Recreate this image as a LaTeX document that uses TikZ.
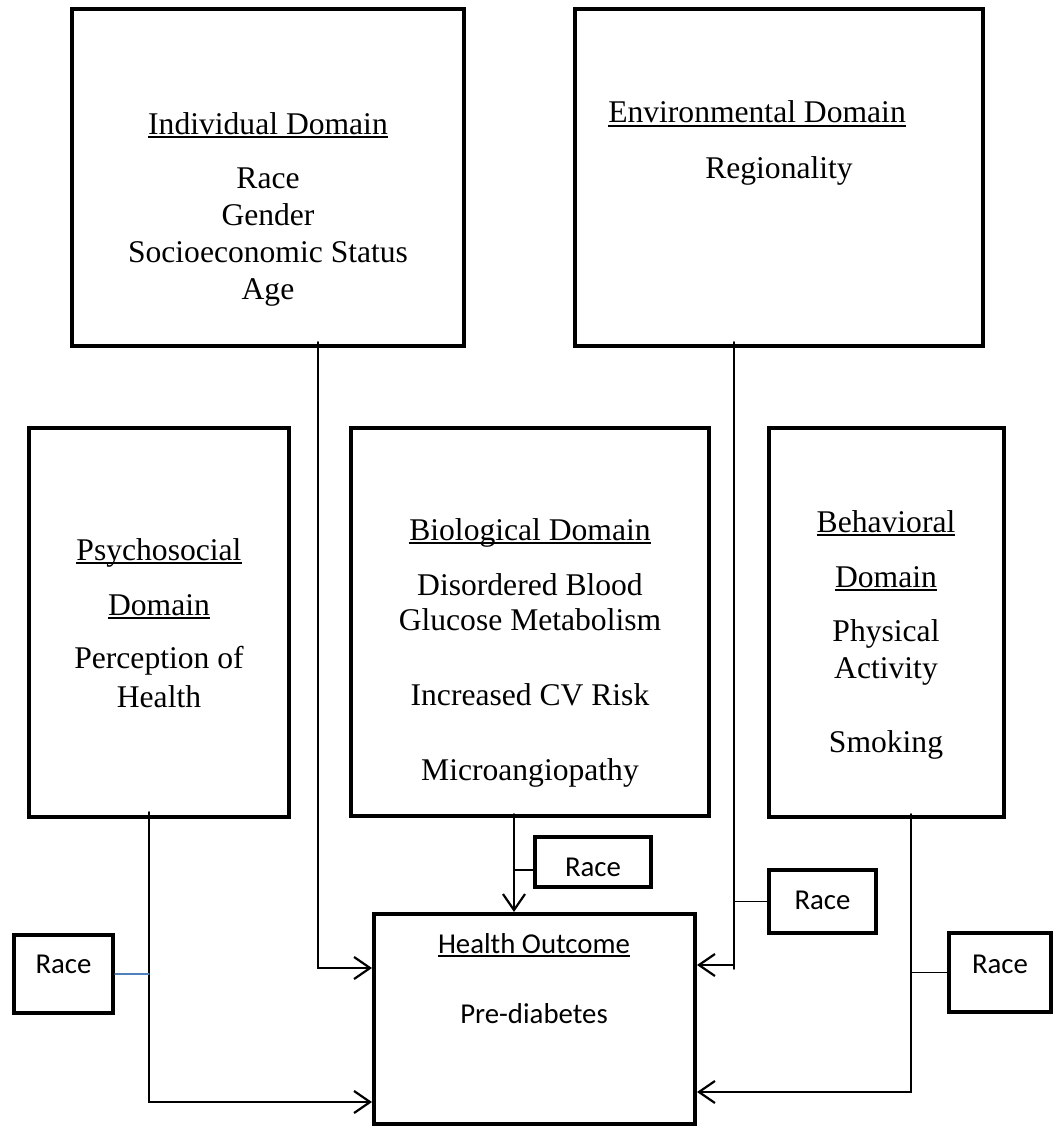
\documentclass[tikz,border=0pt]{standalone}
\usepackage{fontspec}
\setmainfont{Liberation Serif}
\newfontfamily\calibri{Carlito}
\usepackage{tikz}
\usetikzlibrary{arrows.meta}
\definecolor{lin}{RGB}{79,129,189}
\newcommand{\DomTitle}[1]{\setbox0\hbox{#1}\rlap{\rule[-2pt]{\wd0}{0.8pt}}\box0}

\begin{document}
\begin{tikzpicture}[x=0.5pt,y=-0.5pt,line cap=round]
	\tikzstyle{dombox}=[draw,line width=2pt,rectangle,inner sep=0pt];
	\tikzstyle{domtext}=[align=center,anchor=base,inner sep=0pt,font=\fontsize{15.8}{18.5}\selectfont];
	\tikzstyle{sanstext}=[align=center,anchor=base,inner sep=0pt,font=\calibri\fontsize{14.4}{18}\selectfont];
	\tikzstyle{racebox}=[draw,line width=2pt,anchor=base,inner sep=0pt,font=\calibri\fontsize{14.4}{18}\selectfont];
	\tikzstyle{linkarrow}=[line width=0.9pt,-{Straight Barb[length=8pt,width=11pt,line width=1.1pt]}];
	\tikzstyle{tieline}=[line width=0.9pt];
%<--------------------------------------------------------------------------->%

	\useasboundingbox (0,0) rectangle (1059,1129);
	\node[dombox,minimum width=196pt,minimum height=168.5pt] (ind) at (268,177.5) {};
	\node[dombox,minimum width=204pt,minimum height=168.5pt] (env) at (779,177.5) {};
	\node[dombox,minimum width=130pt,minimum height=194.5pt] (psy) at (159,622.5) {};
	\node[dombox,minimum width=179pt,minimum height=194pt] (bio) at (530,622) {};
	\node[dombox,minimum width=117.5pt,minimum height=194.5pt] (beh) at (886.5,622.5) {};
	\node[dombox,minimum width=160.5pt,minimum height=105pt] (out) at (534.5,1019) {};
	%% texts (anchored on the last line)
	\node[domtext] (ind-txt) at (268,299) {\DomTitle{Individual Domain}\\[8.5pt] Race\\ Gender\\ Socioeconomic Status\\ Age};
	\node[domtext] (env-txt) at (757,123) {\DomTitle{Environmental Domain}};
	\node[domtext] (env-item) at (779,178) {Regionality};
	\node[domtext] (psy-txt) at (159,707) {\DomTitle{Psychosocial}\\[9pt] \DomTitle{Domain}\\[8pt] Perception of\\[1pt] Health};
	\node[domtext] (bio-txt) at (530,780) {\DomTitle{Biological Domain}\\[9pt] Disordered Blood\\[-1pt] Glucose Metabolism\\[19pt] Increased CV Risk\\[19pt] Microangiopathy};
	\node[domtext] (beh-txt) at (886,752) {\DomTitle{Behavioral}\\[9pt] \DomTitle{Domain}\\[8.5pt] Physical\\ Activity\\[18.5pt] Smoking};
	\node[sanstext] (out-txt) at (534,1023) {\DomTitle{Health Outcome}\\[17pt] Pre-diabetes};
	%% race boxes
	\node[racebox,minimum width=49.5pt,text height=19pt,text depth=20pt] (race-psy) at (63.5,973) {Race};
	\node[racebox,minimum width=58pt,text height=19.5pt,text depth=5.5pt] (race-bio) at (593,876) {Race};
	\node[racebox,minimum width=53.5pt,text height=19.5pt,text depth=12pt] (race-env) at (822.5,909) {Race};
	\node[racebox,minimum width=51pt,text height=20pt,text depth=19.5pt] (race-beh) at (1000,973) {Race};
	%% Final
	\coordinate (ind-v) at ([xshift=25pt,yshift=3pt]ind.south);
	\coordinate (env-v) at ([xshift=-22.5pt,yshift=3pt]env.south);
	\coordinate (psy-v) at ([xshift=-5pt,yshift=3.5pt]psy.south);
	\coordinate (bio-v) at ([xshift=-8pt,yshift=2pt]bio.south);
	\coordinate (beh-v) at ([xshift=12.25pt,yshift=2.5pt]beh.south);
	\coordinate (env-in) at ([yshift=27pt]out.east);
	\draw[linkarrow] (ind-v) |- ([yshift=25.5pt]out.west);
	\draw[linkarrow] (psy-v) |- ([yshift=-41.5pt]out.west);
	\draw[linkarrow] (bio-v) -- (bio-v |- out.north);
	\draw[linkarrow] (env-v) |- (env-in);
	\draw[tieline] (env-v |- env-in) -- ++(0,4);
	\draw[linkarrow] (beh-v) |- ([yshift=-36.5pt]out.east);
	\draw[tieline,lin,line width=0.7pt] (race-psy.east) -- (race-psy.east -| psy-v);
	\draw[tieline] ([yshift=-4pt]race-bio.west) -- ([yshift=-4pt]race-bio.west -| bio-v);
	\draw[tieline] (race-env.west) -- (race-env.west -| env-v);
	\draw[tieline] (race-beh.west) -- (race-beh.west -| beh-v);
\end{tikzpicture}
\end{document}
